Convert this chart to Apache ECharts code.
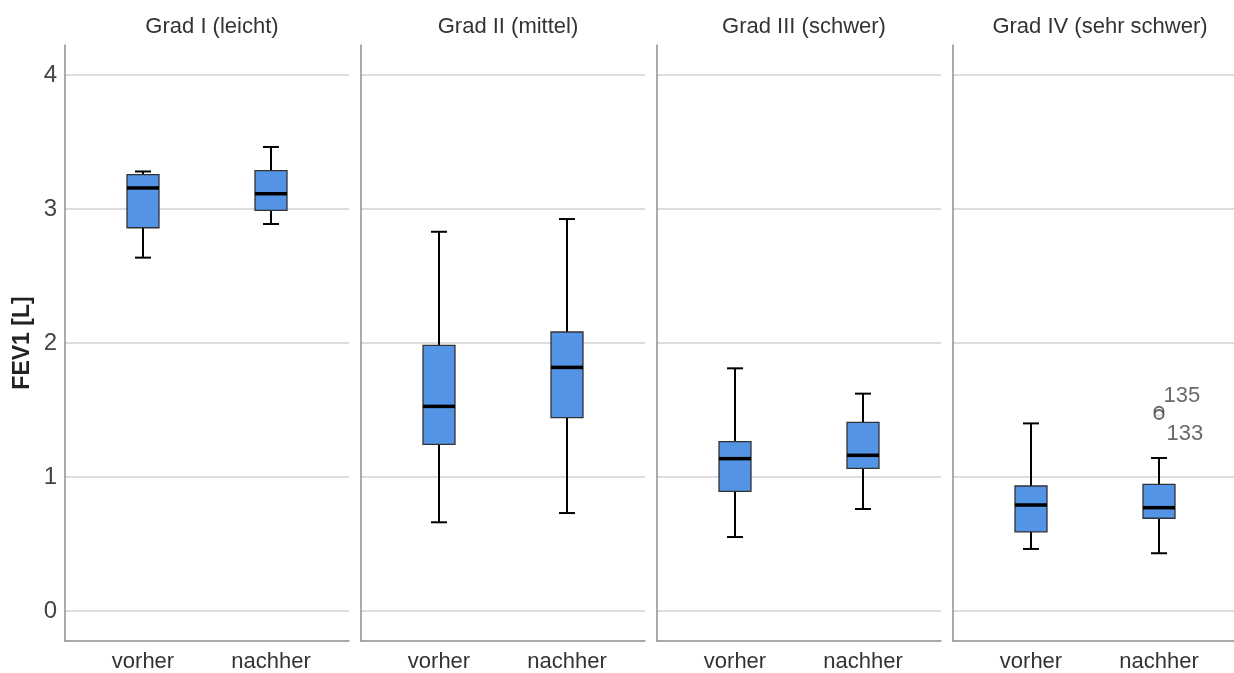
<!DOCTYPE html>
<html>
<head>
<meta charset="utf-8">
<script src="https://cdn.jsdelivr.net/npm/echarts@6/dist/echarts.min.js"></script>
<style>
html,body{margin:0;padding:0;background:#fff;}
#chart{width:1234px;height:673px;}
</style>
</head>
<body>
<div id="chart"></div>
<script>
// ---- data ----
const panelTitles = ['Grad I (leicht)', 'Grad II (mittel)', 'Grad III (schwer)', 'Grad IV (sehr schwer)'];
const categories = ['vorher', 'nachher'];
const yTicks = [0, 1, 2, 3, 4];
const yAxisName = 'FEV1 [L]';
// each entry: [min, Q1, median, Q3, max]
const grad1 = [[2.637, 2.86, 3.157, 3.256, 3.28], [2.888, 2.99, 3.114, 3.286, 3.463]];
const grad2 = [[0.662, 1.244, 1.527, 1.983, 2.83], [0.731, 1.443, 1.818, 2.082, 2.925]];
const grad3 = [[0.552, 0.893, 1.137, 1.264, 1.811], [0.761, 1.065, 1.162, 1.408, 1.622]];
const grad4 = [[0.463, 0.590, 0.791, 0.933, 1.40], [0.431, 0.692, 0.771, 0.945, 1.142]];
const outlierCategory = 'nachher';
const outlierValues = [1.49, 1.467];
const outlierIds = ['135', '133'];

const panels = [grad1, grad2, grad3, grad4];

// ---- layout ----
const FONT = '"Liberation Sans", Arial, sans-serif';
const panelLeft0 = 65, panelStep = 296, panelW = 284;
const frameTop = 45, frameH = 596;
const plotTop = 75, plotH = 536;
const boxInset = 14;

const grid = [], xAxis = [], yAxis = [], series = [], title = [];
const yMin = yTicks[0], yMax = yTicks[yTicks.length - 1];

panels.forEach((pdata, i) => {
  const L = panelLeft0 + panelStep * i;
  const gFrame = grid.length;
  grid.push({left: L, top: frameTop, width: panelW, height: frameH});
  const gSplit = grid.length;
  grid.push({left: L, top: plotTop, width: panelW, height: plotH});
  const gBox = grid.length;
  grid.push({left: L + boxInset, top: plotTop, width: panelW - 2 * boxInset, height: plotH});

  // frame axes
  xAxis.push({gridIndex: gFrame, type: 'value', min: 0, max: 1,
    axisLine: {show: true, onZero: false, lineStyle: {color: '#8f8f8f', width: 1.5}},
    axisTick: {show: false}, axisLabel: {show: false}, splitLine: {show: false}});
  yAxis.push({gridIndex: gFrame, type: 'value', min: 0, max: 1,
    name: i === 0 ? yAxisName : '', nameLocation: 'middle', nameGap: 31, nameRotate: 90,
    nameTextStyle: {fontFamily: FONT, fontSize: 23, fontWeight: 'bold', color: '#222'},
    axisLine: {show: true, lineStyle: {color: '#8f8f8f', width: 1.5}},
    axisTick: {show: false}, axisLabel: {show: false}, splitLine: {show: false}});

  // split-line grid
  xAxis.push({gridIndex: gSplit, type: 'value', min: 0, max: 1, show: false});
  yAxis.push({gridIndex: gSplit, type: 'value', min: yMin, max: yMax, interval: 1,
    axisLine: {show: false}, axisTick: {show: false},
    axisLabel: {show: i === 0, margin: 8, fontFamily: FONT, fontSize: 24, color: '#444'},
    splitLine: {show: true, lineStyle: {color: '#d2d2d2', width: 1.5}}});

  // box grid
  xAxis.push({gridIndex: gBox, type: 'category', data: categories,
    axisLine: {show: false}, axisTick: {show: false}, splitLine: {show: false},
    axisLabel: {margin: 40, fontFamily: FONT, fontSize: 22, color: '#333'}});
  yAxis.push({gridIndex: gBox, type: 'value', min: yMin, max: yMax, show: false});

  title.push({text: panelTitles[i], left: L + panelW / 2, top: 11, textAlign: 'center',
    textStyle: {fontFamily: FONT, fontSize: 22, fontWeight: 'normal', color: '#333'}});

  series.push({
    type: 'custom',
    xAxisIndex: gBox, yAxisIndex: gBox,
    data: pdata.map((d, k) => [k].concat(d)),
    encode: {x: 0, y: [1, 2, 3, 4, 5]},
    renderItem: function (params, api) {
      const c = api.value(0);
      const pMin = api.coord([c, api.value(1)]);
      const pQ1 = api.coord([c, api.value(2)]);
      const pMed = api.coord([c, api.value(3)]);
      const pQ3 = api.coord([c, api.value(4)]);
      const pMax = api.coord([c, api.value(5)]);
      const x = pMin[0];
      const bw = 32, cw = 16;
      const line = (x1, y1, x2, y2, w) => ({type: 'line', shape: {x1, y1, x2, y2},
        style: {stroke: '#000', lineWidth: w}});
      return {type: 'group', children: [
        line(x, pQ3[1], x, pMax[1], 2),
        line(x, pQ1[1], x, pMin[1], 2),
        line(x - cw / 2, pMax[1], x + cw / 2, pMax[1], 2),
        line(x - cw / 2, pMin[1], x + cw / 2, pMin[1], 2),
        {type: 'rect', shape: {x: x - bw / 2, y: pQ3[1], width: bw, height: pQ1[1] - pQ3[1]},
          style: {fill: '#5394e4', stroke: '#333', lineWidth: 1.3}},
        line(x - bw / 2, pMed[1], x + bw / 2, pMed[1], 3.5)
      ]};
    }
  });

  if (i === 3) {
    series.push({
      type: 'scatter', xAxisIndex: gBox, yAxisIndex: gBox,
      symbol: 'emptyCircle', symbolSize: 9,
      itemStyle: {color: '#444', borderColor: '#444', borderWidth: 1.3},
      data: outlierValues.map((v, k) => ({
        value: [outlierCategory, v],
        label: {show: true, formatter: outlierIds[k], position: 'right',
          offset: k === 0 ? [-6, -15] : [-3, 20],
          fontFamily: FONT, fontSize: 22, color: '#444'}
      })),
      z: 5
    });
  }
});

const chart = echarts.init(document.getElementById('chart'), null, {renderer: 'canvas'});
chart.setOption({animation: false, backgroundColor: '#fff', title, grid, xAxis, yAxis, series});
</script>
</body>
</html>
